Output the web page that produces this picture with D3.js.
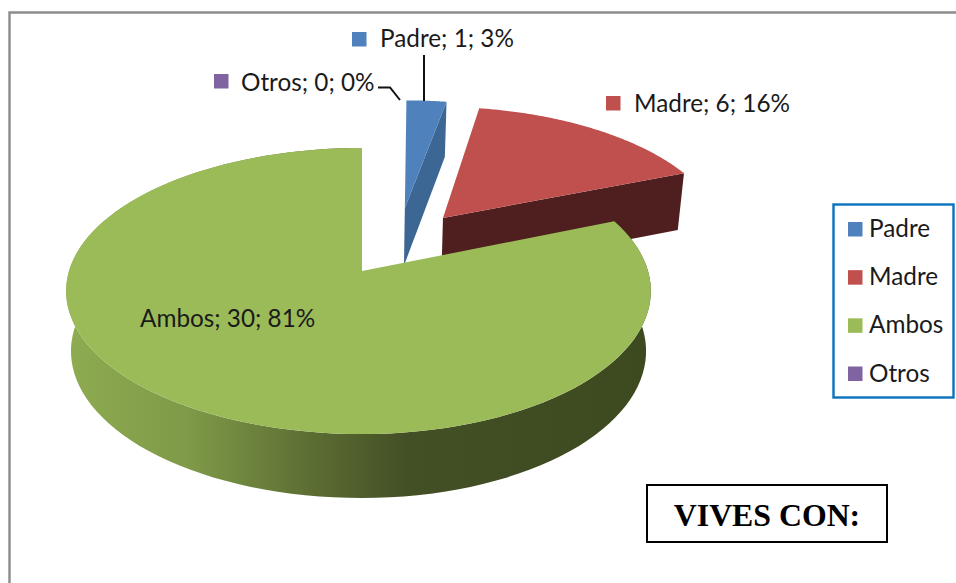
<!DOCTYPE html>
<html><head><meta charset="utf-8">
<script src="https://cdn.jsdelivr.net/npm/d3@7"></script>
<style>html,body{margin:0;padding:0;background:#fff;overflow:hidden}svg{display:block}</style>
</head><body><svg id="c" width="956" height="583"></svg>
<script>
const categories = ["Padre","Madre","Ambos","Otros"];
const values = [1,6,30,0];
const colors = ["#4f81bd","#c0504d","#9bbb59","#8064a2"];
const sideColors = ["#3c6693","#4f1f1f",null,null];
const title = "VIVES CON:";

const svg = d3.select("#c");
const font = "Lato, Carlito, Calibri, sans-serif";
const color = d3.scaleOrdinal(categories, colors);
const total = d3.sum(values);
const pct = d3.format(".0%");
const labelText = i => `${categories[i]}; ${values[i]}; ${pct(values[i]/total)}`;

// Perspective disc: unit-disc coordinates to screen, for the upper and lower face
const apexX = 362;
function project(x, y, lower){
  const w = lower ? 1 - 0.1436*y : 1 - 0.14*y;
  const k = (x < 0 ? 293 : 286) * (lower ? 0.983 : 1);
  const sy = lower ? (96.5*y + 330)/w : (102.3*y + 271)/w;
  return [apexX + k*x/w, sy];
}
const explode = [[0.175,-0.487],[0.31,-0.40],[0,0],[0,0]];
const rimNudge = [[3,2],[2.5,0],[0,0],[0,0]];
const apexNudge = [[-4,1],[-3,0],[0,0],[0,0]];
const pie = d3.pie().sort(null).startAngle(0).endAngle(2*Math.PI);
const slices = pie(values);
const line = d3.line();
const shift = (p,n) => [p[0]+n[0],p[1]+n[1]];
const rim = (s, i, a, lower) => shift(project(Math.sin(a)+explode[i][0], -Math.cos(a)+explode[i][1], lower), rimNudge[i]);
const apex = (i, lower) => shift(project(explode[i][0], explode[i][1], lower), apexNudge[i]);
const arcPts = (s, i, lower) => d3.range(0,121).map(t => rim(s,i,s.startAngle+(s.endAngle-s.startAngle)*t/120,lower));

// frame
svg.append("path").attr("d","M9.5 583V12.5H956").attr("fill","none").attr("stroke","#8c8c8c").attr("stroke-width",2.4);

// wall gradient
const grad = svg.append("defs").append("linearGradient").attr("id","wall")
  .attr("gradientUnits","userSpaceOnUse").attr("x1",72).attr("x2",650).attr("y1",0).attr("y2",0);
[[0,"#8dab50"],[0.2,"#7f9a48"],[0.42,"#5b6c32"],[0.58,"#434f25"],[1,"#3d4a20"]]
  .forEach(([o,c])=>grad.append("stop").attr("offset",o).attr("stop-color",c));

// slices, back to front
[1,0,2].forEach(i=>{
  const s = slices[i];
  const g = svg.append("g");
  if(i===2){
    const topArc = arcPts(s,i,false), lowArc = arcPts(s,i,true);
    g.append("path").attr("d",line(topArc.concat(lowArc.reverse()))+"Z").attr("fill","url(#wall)");
  } else {
    g.append("path").attr("d",line([apex(i,false),rim(s,i,s.endAngle,false),rim(s,i,s.endAngle,true),apex(i,true)])+"Z")
      .attr("fill",sideColors[i]);
  }
  g.append("path").attr("d",line([apex(i,false),...arcPts(s,i,false)])+"Z").attr("fill",color(categories[i]));
});

// leaders
svg.append("path").attr("d",line([[424,55],[424,101]])).attr("fill","none").attr("stroke","#111").attr("stroke-width",2);
svg.append("path").attr("d",line([[378,87.5],[390,87.5],[400,100]])).attr("fill","none").attr("stroke","#111").attr("stroke-width",2);

// data labels
const labelSpots = [
  {i:0,sx:352,sy:32,tx:380,by:47},
  {i:1,sx:606,sy:96,tx:634,by:112},
  {i:2,sx:113,sy:310,tx:140,by:327},
  {i:3,sx:214,sy:74,tx:241,by:91}
];
labelSpots.forEach(d=>{
  svg.append("rect").attr("x",d.sx).attr("y",d.sy).attr("width",14.5).attr("height",14.5).attr("fill",color(categories[d.i]));
  svg.append("text").attr("x",d.tx).attr("y",d.by).attr("font-family",font).attr("font-size",24.3).attr("fill","#1a1a1a").text(labelText(d.i));
});

// legend
svg.append("rect").attr("x",833.5).attr("y",204.5).attr("width",120).attr("height",193).attr("fill","#fff").attr("stroke","#0b72c0").attr("stroke-width",2.4);
const legendY = d3.scalePoint(categories,[222,366.5]);
categories.forEach(c=>{
  svg.append("rect").attr("x",848).attr("y",legendY(c)).attr("width",14.5).attr("height",14.5).attr("fill",color(c));
  svg.append("text").attr("x",869).attr("y",legendY(c)+15).attr("font-family",font).attr("font-size",24.3).attr("fill","#1a1a1a").text(c);
});

// title box
svg.append("rect").attr("x",647).attr("y",485).attr("width",240).attr("height",57).attr("fill","#fff").attr("stroke","#000").attr("stroke-width",2);
svg.append("text").attr("x",767).attr("y",526).attr("text-anchor","middle").attr("font-family","'Liberation Serif',serif").attr("font-weight","bold").attr("font-size",31.8).attr("fill","#000").text(title);
</script></body></html>
